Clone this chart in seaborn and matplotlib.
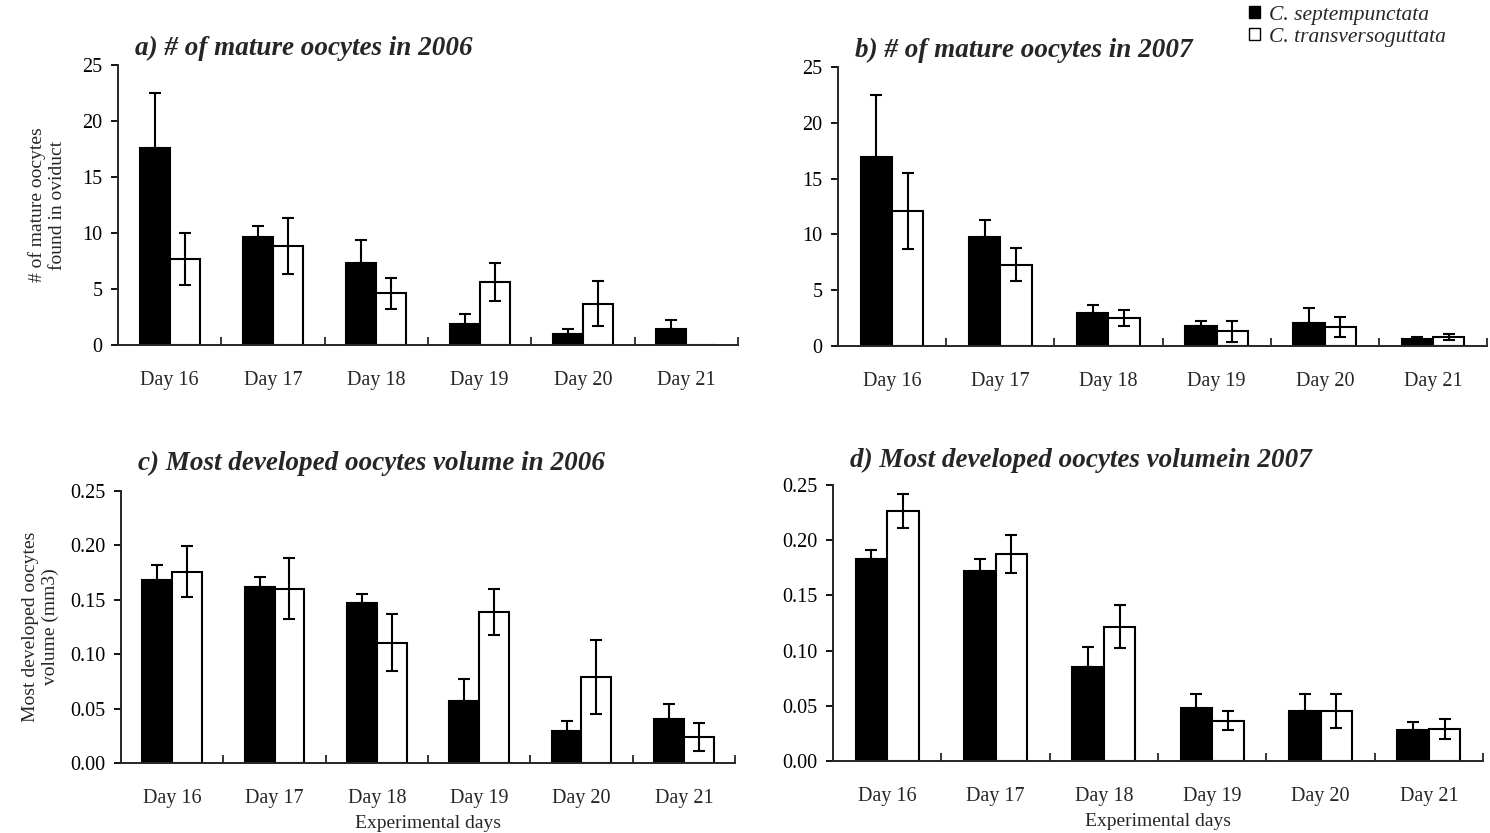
import numpy as np
import pandas as pd
import matplotlib
matplotlib.use("Agg")
import matplotlib.pyplot as plt
import seaborn as sns
from matplotlib.patches import Patch
from matplotlib.ticker import FormatStrFormatter, FixedLocator

# ---------------- data ----------------
days = ["Day 16", "Day 17", "Day 18", "Day 19", "Day 20", "Day 21"]
species = ["C. septempunctata", "C. transversoguttata"]

a_sept = [17.6, 9.6, 7.3, 1.9, 1.0, 1.45]
a_sept_err = [4.9, 1.0, 2.1, 0.9, 0.4, 0.75]
a_trans = [7.7, 8.8, 4.6, 5.6, 3.7, 0.0]
a_trans_err = [2.3, 2.5, 1.4, 1.7, 2.0, np.nan]

b_sept = [16.9, 9.8, 2.95, 1.75, 2.05, 0.65]
b_sept_err = [5.6, 1.5, 0.75, 0.45, 1.35, 0.15]
b_trans = [12.1, 7.3, 2.5, 1.3, 1.7, 0.8]
b_trans_err = [3.4, 1.5, 0.75, 0.9, 0.9, 0.3]

c_sept = [0.168, 0.162, 0.1475, 0.057, 0.029, 0.040]
c_sept_err = [0.014, 0.009, 0.0075, 0.0205, 0.010, 0.014]
c_trans = [0.176, 0.160, 0.1105, 0.139, 0.079, 0.024]
c_trans_err = [0.023, 0.028, 0.026, 0.021, 0.034, 0.013]

d_sept = [0.183, 0.172, 0.0847, 0.048, 0.0455, 0.0277]
d_sept_err = [0.008, 0.011, 0.0183, 0.013, 0.0155, 0.0078]
d_trans = [0.2265, 0.1877, 0.1217, 0.0365, 0.0455, 0.029]
d_trans_err = [0.015, 0.017, 0.0195, 0.0085, 0.0155, 0.0088]

titles = ["a) # of mature oocytes in 2006", "b) # of mature oocytes in 2007",
          "c) Most developed oocytes volume in 2006", "d) Most developed oocytes volumein 2007"]
ylabel_count = "# of mature oocytes\nfound in oviduct"
ylabel_vol = "Most developed oocytes\nvolume (mm3)"
xlabel = "Experimental days"

# ---------------- style ----------------
sns.set_style("ticks")
plt.rcParams["font.family"] = ["Liberation Serif", "DejaVu Serif"]
plt.rcParams["axes.linewidth"] = 1.4

W, H = 1490, 833
fig = plt.figure(figsize=(W / 100, H / 100), dpi=100)

def frac(l, t, r, b):
    return [l / W, 1 - b / H, (r - l) / W, (b - t) / H]

axes_pos = [frac(118, 65, 738, 345), frac(838, 67, 1487, 346),
            frac(121, 491, 735, 763), frac(833, 485, 1483, 761)]
title_offsets = [17, 17, 28, 25]

panels = [
    (a_sept, a_sept_err, a_trans, a_trans_err),
    (b_sept, b_sept_err, b_trans, b_trans_err),
    (c_sept, c_sept_err, c_trans, c_trans_err),
    (d_sept, d_sept_err, d_trans, d_trans_err),
]
palette = {species[0]: "black", species[1]: "white"}

for i, (pos, (s, se, t, te)) in enumerate(zip(axes_pos, panels)):
    ax = fig.add_axes(pos)
    df = pd.DataFrame({
        "day": days * 2,
        "species": [species[0]] * 6 + [species[1]] * 6,
        "value": list(s) + list(t),
    })
    sns.barplot(data=df, x="day", y="value", hue="species", order=days,
                hue_order=species, palette=palette, width=0.58, dodge=True,
                edgecolor="black", linewidth=1.5, errorbar=None, legend=False,
                ax=ax, saturation=1)
    # error bars at bar centres (black bars: upper half only, as drawn over fill)
    for k, (cont, vals, errs) in enumerate(zip(ax.containers, [s, t], [se, te])):
        xs = [p.get_x() + p.get_width() / 2 for p in cont.patches]
        errs = np.asarray(errs, dtype=float)
        yerr = [np.zeros_like(errs), errs] if k == 0 else [errs, errs]
        ax.errorbar(xs, vals, yerr=yerr, fmt="none", ecolor="black",
                    elinewidth=1.5, capsize=4, capthick=1.5, zorder=5)
    sns.despine(ax=ax)
    ax.set_xlim(-0.5, 5.5)
    if i < 2:
        ax.set_ylim(0, 25)
        ax.set_yticks([0, 5, 10, 15, 20, 25])
    else:
        ax.set_ylim(0, 0.25)
        ax.set_yticks([0, 0.05, 0.10, 0.15, 0.20, 0.25])
        ax.yaxis.set_major_formatter(FormatStrFormatter("%.2f"))
    ax.tick_params(axis="y", direction="out", length=5, width=1.3,
                   labelsize=14.5, pad=6, colors="black")
    ax.tick_params(axis="x", which="major", length=0, labelsize=14.5, pad=19)
    ax.xaxis.set_minor_locator(FixedLocator([0.5, 1.5, 2.5, 3.5, 4.5, 5.5]))
    ax.tick_params(axis="x", which="minor", direction="in", length=6, width=1.3)
    ax.set_xlabel("")
    ax.set_ylabel("")
    if i == 0:
        ax.set_ylabel(ylabel_count, fontsize=14, labelpad=12)
    if i == 2:
        ax.set_ylabel(ylabel_vol, fontsize=14, labelpad=8)
    if i >= 2:
        ax.set_xlabel(xlabel, fontsize=14, labelpad=5)
    ax.text(17 / (pos[2] * W), 1.0 + title_offsets[i] / (pos[3] * H), titles[i],
            transform=ax.transAxes, fontsize=19.5, fontweight="bold",
            fontstyle="italic", ha="left", va="center")

handles = [Patch(facecolor="black", edgecolor="black"),
           Patch(facecolor="white", edgecolor="black", linewidth=1.0)]
fig.legend(handles, species, loc="upper left",
           bbox_to_anchor=(1249 / W, 1 - 6 / H), frameon=False,
           handlelength=0.5, handleheight=0.5, handletextpad=0.45,
           labelspacing=0.12, borderaxespad=0.0, borderpad=0.0,
           prop={"style": "italic", "size": 15.5})

fig.savefig("out.png", dpi=100)
